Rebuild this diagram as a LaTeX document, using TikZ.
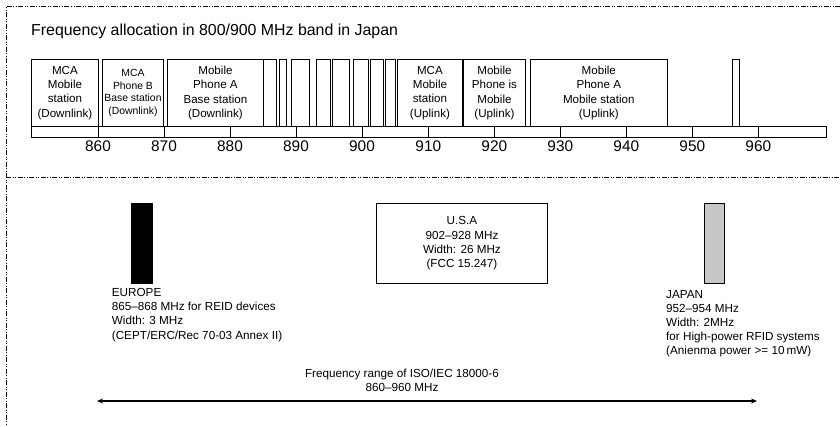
\documentclass[tikz,border=0pt]{standalone}
\usepackage{fontspec}
\setmainfont{Liberation Sans}
\usepackage{tikz}
\usetikzlibrary{arrows.meta}

\begin{document}
\begin{tikzpicture}[x=1pt, y=-1pt,
  band/.style={draw, line width=0.9pt, anchor=north west, minimum height=67pt, inner sep=0pt, align=center, font=\fontsize{11.6}{14.2}\selectfont},
  slot/.style={draw, line width=0.9pt, anchor=north west, minimum height=67pt, inner sep=0pt},
  bar/.style={draw, line width=0.9pt, anchor=north west, minimum height=79.4pt, inner sep=0pt},
  freq/.style={anchor=base, inner sep=0pt, font=\fontsize{15.4}{18}\selectfont},
  note/.style={anchor=north west, inner sep=0pt, align=left, font=\fontsize{11.7}{14.3}\selectfont},
  frame/.style={line width=0.9pt, dash pattern=on 5pt off 1.5pt on 1pt off 1.5pt on 1pt off 1.5pt},
  arr/.style={{Stealth[length=6pt,width=5pt]}-{Stealth[length=6pt,width=5pt]}, line width=1.1pt}
]
\useasboundingbox (0,0) rectangle (840,426);

% dashed frame
\draw[frame] (840,6.7) -- (6,6.7) -- (6,426);
\draw[frame] (6,177.3) -- (840,177.3);

% upper part: allocation in Japan
\node[anchor=base west, inner sep=0pt, font=\fontsize{15.9}{18}\selectfont] (title) at (31,35) {Frequency allocation in 800/900 MHz band in Japan};

\node[band, minimum width=67pt] (mcadl) at (31,59) {MCA\\Mobile\\station\\(Downlink)};
\node[band, minimum width=61pt, font=\fontsize{10.4}{12.6}\selectfont] (phbbs) at (102,59) {MCA\\Phone B\\Base station\\(Downlink)};
\node[band, minimum width=96pt] (phabs) at (167,59) {Mobile\\Phone A\\Base station\\(Downlink)};
\node[slot, minimum width=12.7pt] (s1) at (263.3,59) {};
\node[slot, minimum width=6.7pt] (s2) at (279.3,59) {};
\node[slot, minimum width=18.6pt] (s3) at (290.7,59) {};
\node[slot, minimum width=14pt] (s4) at (316,59) {};
\node[slot, minimum width=17.6pt] (s5) at (331.7,59) {};
\node[slot, minimum width=15pt] (s6) at (352.7,59) {};
\node[slot, minimum width=13.3pt] (s7) at (370,59) {};
\node[slot, minimum width=10.6pt] (s8) at (384.7,59) {};
\node[band, minimum width=65pt] (mcaul) at (397,59) {MCA\\Mobile\\station\\(Uplink)};
\node[band, minimum width=62.6pt] (phmob) at (462.7,59) {Mobile\\Phone is\\Mobile\\(Uplink)};
\node[band, minimum width=136.7pt] (phams) at (530,59) {Mobile\\Phone A\\Mobile station\\(Uplink)};
\node[slot, minimum width=7.6pt] (s9) at (731.7,59) {};

% frequency axis
\node[draw, line width=0.9pt, anchor=north west, minimum width=795pt, minimum height=11pt, inner sep=0pt] (axis) at (31,126) {};
\draw[line width=0.9pt] (98,126) -- ++(0,11) (164,126) -- ++(0,11) (230,126) -- ++(0,11)
  (296,126) -- ++(0,11) (362,126) -- ++(0,11) (428.3,126) -- ++(0,11) (494.3,126) -- ++(0,11)
  (560.3,126) -- ++(0,11) (626.3,126) -- ++(0,11) (692.3,126) -- ++(0,11) (758.3,126) -- ++(0,11);
\node[freq] (f860) at (98,151.7) {860};
\node[freq] (f870) at (164,151.7) {870};
\node[freq] (f880) at (230,151.7) {880};
\node[freq] (f890) at (296,151.7) {890};
\node[freq] (f900) at (362,151.7) {900};
\node[freq] (f910) at (428.3,151.7) {910};
\node[freq] (f920) at (494.3,151.7) {920};
\node[freq] (f930) at (560.3,151.7) {930};
\node[freq] (f940) at (626.3,151.7) {940};
\node[freq] (f950) at (692.3,151.7) {950};
\node[freq] (f960) at (758.3,151.7) {960};

% lower part: regional bands
\node[bar, fill=black, minimum width=21pt] (eubar) at (130.7,203.3) {};
\node[note] (eutext) at (111.7,288) {EUROPE\\865--868 MHz for REID devices\\Width: 3 MHz\\(CEPT/ERC/Rec 70-03 Annex II)};
\node[bar, minimum width=171.6pt, align=center, font=\fontsize{11.7}{14.3}\selectfont] (usa) at (375.7,203.3) {U.S.A\\902--928 MHz\\Width: 26 MHz\\(FCC 15.247)};
\node[bar, fill=black!22, minimum width=19.7pt] (jpbar) at (704,203.3) {};
\node[note, font=\fontsize{11.7}{14}\selectfont] (jptext) at (666,290) {JAPAN\\952--954 MHz\\Width: 2MHz\\for High-power RFID systems\\(Anienma power >= 10\,mW)};

% ISO range
\node[align=center, inner sep=0pt, font=\fontsize{11.7}{14}\selectfont] (isotext) at (402,380.3) {Frequency range of ISO/IEC 18000-6\\860--960 MHz};
\coordinate (lo) at (97,401);
\coordinate (hi) at (757,401);
\draw[arr] (lo) -- (hi);
\end{tikzpicture}
\end{document}
